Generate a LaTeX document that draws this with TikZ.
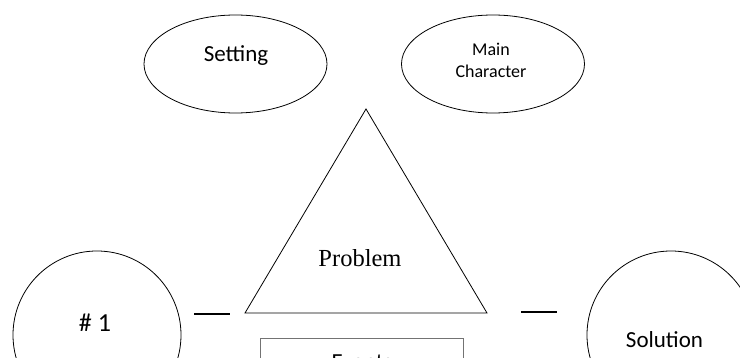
\documentclass[tikz,border=0pt]{standalone}
\usepackage{fontspec}
\setmainfont{Liberation Serif}
\setsansfont{Carlito}
\usetikzlibrary{shapes.geometric}
\begin{document}
\begin{tikzpicture}[x=1pt,y=-1pt,
  oval/.style={draw, ellipse, line width=0.8pt, minimum width=183pt, minimum height=98pt, inner sep=0pt},
  ring/.style={draw, circle, line width=0.8pt, minimum size=168pt, inner sep=0pt},
  lbl/.style={anchor=base, inner sep=0pt, font=\sffamily\fontsize{23}{27}\selectfont},
  small/.style={anchor=base, inner sep=0pt, font=\sffamily\fontsize{18}{22}\selectfont},
  tri/.style={line width=0.8pt, line join=miter},
  bar/.style={line width=1.6pt},
  evbox/.style={draw=black!55, line width=0.9pt, rectangle, anchor=north west, minimum width=203pt, minimum height=60pt, inner sep=0pt}]
\useasboundingbox (0,0) rectangle (740,358);
\clip (0,0) rectangle (740,358);
% ellipses
\node[oval] (setting) at (235.5,64) {};
\node[lbl] (settingtxt) at (236,62) {Setting};
\node[oval] (mainchar) at (493,64) {};
\node[small] (maintxt) at (491,56) {Main};
\node[small] (chartxt) at (491,78) {Character};
% triangle
\coordinate (apex) at (366,109);
\coordinate (bl) at (245,313);
\coordinate (br) at (487,313);
\draw[tri] (apex) -- (bl) -- (br) -- cycle;
\node[anchor=base, inner sep=0pt, font=\rmfamily\fontsize{24.5}{28}\selectfont] (problem) at (360,267) {Problem};
% circles
\node[ring] (one) at (97,335) {};
\node[anchor=base, inner sep=0pt, font=\sffamily\fontsize{26}{30}\selectfont] (onetxt) at (95,332) {\# 1};
\node[ring] (solution) at (671,335) {};
\node[lbl] (soltxt) at (664.5,348) {Solution};
% dashes
\coordinate (d1a) at (194,314);
\coordinate (d1b) at (230,314);
\coordinate (d2a) at (521,312);
\coordinate (d2b) at (557,312);
\draw[bar] (d1a) -- (d1b);
\draw[bar] (d2a) -- (d2b);
% events box
\node[evbox] (events) at (260,338) {};
\node[lbl] (eventstxt) at (362,370) {Events};
\end{tikzpicture}
\end{document}
